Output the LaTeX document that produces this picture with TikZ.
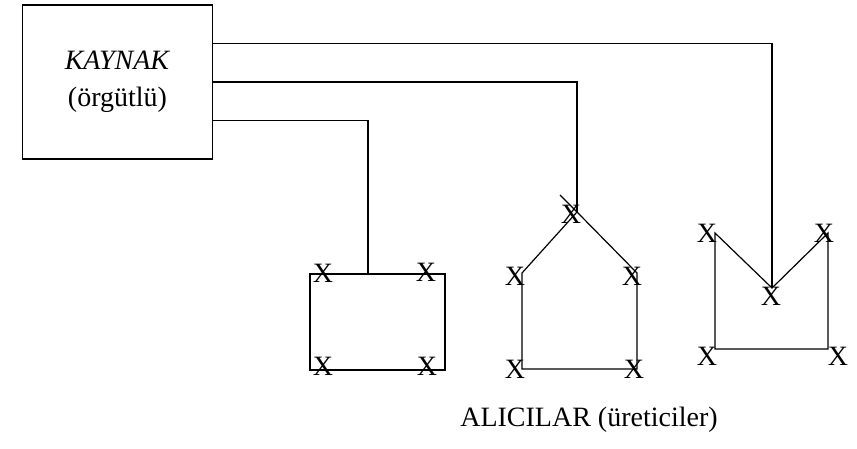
\documentclass[tikz,border=0pt]{standalone}
\usepackage{fontspec}
\setmainfont{Liberation Serif}
\usetikzlibrary{calc}

\begin{document}
\begin{tikzpicture}[
    x=0.75pt, y=-0.75pt,
    line width=0.9pt,
    source/.style={draw,minimum width=143pt,minimum height=115.5pt,inner sep=0pt,align=center,font=\fontsize{21}{28}\selectfont},
    xmark/.style={inner sep=0pt,font=\fontsize{21}{21}\selectfont},
    caption/.style={inner sep=0pt,font=\fontsize{21}{25}\selectfont}
]
    \useasboundingbox (0,0) rectangle (857,449);

    % Source
    \node[source] (src) at (117.5,82) {\textit{KAYNAK}\\(örgütlü)};

    % Receiver 1: rectangle
    \coordinate (ra) at (310,274);
    \coordinate (rb) at (445,274);
    \coordinate (rc) at (445,370);
    \coordinate (rd) at (310,370);
    \coordinate (rtop) at (368,274);
    \draw (ra) -- (rb) -- (rc) -- (rd) -- cycle;
    \node[xmark] (x1) at (323,273) {X};
    \node[xmark] (x2) at (426,272) {X};
    \node[xmark] (x3) at (323,366) {X};
    \node[xmark] (x4) at (427,366) {X};

    % Receiver 2: house
    \coordinate (apex) at (577,212);
    \coordinate (ext) at (560,195);
    \coordinate (hl) at (522,273);
    \coordinate (hr) at (637,273);
    \coordinate (hbl) at (522,369);
    \coordinate (hbr) at (637,369);
    \draw (hbl) -- (hl) -- (apex) -- (hr) -- (hbr) -- cycle;
    \draw (apex) -- (ext);
    \node[xmark] (x5) at (571,214) {X};
    \node[xmark] (x6) at (515,276) {X};
    \node[xmark] (x7) at (632,276) {X};
    \node[xmark] (x8) at (515,369) {X};
    \node[xmark] (x9) at (634,369) {X};

    % Receiver 3: V shape
    \coordinate (vl) at (715,233);
    \coordinate (vtip) at (772,288);
    \coordinate (vr) at (828,233);
    \coordinate (vbl) at (715,349);
    \coordinate (vbr) at (828,349);
    \draw (vbl) -- (vl) -- (vtip) -- (vr) -- (vbr) -- cycle;
    \node[xmark] (x10) at (707,233) {X};
    \node[xmark] (x11) at (824,233) {X};
    \node[xmark] (x12) at (771,296) {X};
    \node[xmark] (x13) at (707,356) {X};
    \node[xmark] (x14) at (838,356) {X};

    % Feeds
    \draw ($(src.north east)!0.25!(src.south east)$) -| (vtip);
    \draw ($(src.north east)!0.5!(src.south east)$) -| (apex);
    \draw ($(src.north east)!0.75!(src.south east)$) -| (rtop);

    % Label
    \node[caption] (lbl) at (589,420) {ALICILAR (üreticiler)};
\end{tikzpicture}
\end{document}
